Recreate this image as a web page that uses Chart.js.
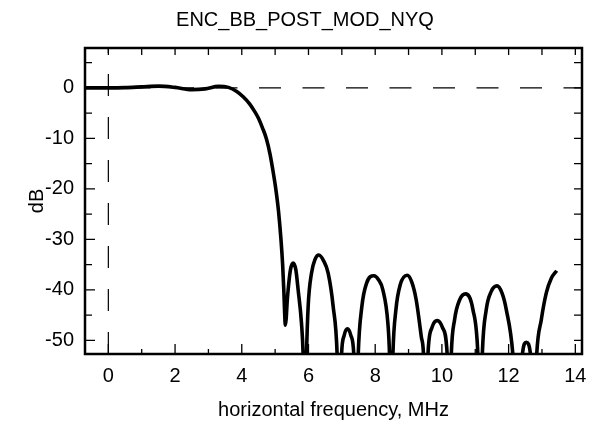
<!DOCTYPE html>
<html>
<head>
<meta charset="utf-8">
<script src="https://cdn.jsdelivr.net/npm/chart.js@4"></script>
<style>
html,body{margin:0;padding:0;background:#fff;}
canvas{display:block;}
</style>
</head>
<body>
<canvas id="c" width="590" height="441" style="width:590px;height:441px"></canvas>
<script>
// ---- data ----
const chartTitle = 'ENC_BB_POST_MOD_NYQ';
const xAxisTitle = 'horizontal frequency, MHz';
const yAxisTitle = 'dB';

const freqMHz = [
  -0.7, -0.3, 0.0, 0.5, 1.0, 1.5, 2.0, 2.5, 2.9, 3.3, 3.6, 3.85, 4.05, 4.24, 4.37, 4.5, 4.62, 4.74, 4.85, 4.94,
  5.02, 5.10, 5.175, 5.225, 5.26, 5.285, 5.305, 5.33, 5.36, 5.39, 5.46, 5.54, 5.62, 5.69, 5.79, 5.84, 5.89, 5.94, 5.99,
  6.09, 6.2, 6.31, 6.45, 6.59, 6.74, 6.86, 6.92, 6.99, 7.07, 7.17, 7.27, 7.36, 7.43, 7.49, 7.6, 7.74, 7.96,
  8.1, 8.23, 8.38, 8.43, 8.48, 8.53, 8.62, 8.75, 8.96, 9.1, 9.23, 9.38, 9.45, 9.52, 9.58, 9.7, 9.86, 10.02,
  10.16, 10.22, 10.28, 10.38, 10.53, 10.71, 10.93, 11.08, 11.15, 11.21, 11.33, 11.48, 11.65, 11.8, 11.93,
  12.13, 12.27, 12.41, 12.53, 12.66, 12.75, 12.84, 12.98, 13.13, 13.28, 13.44
];
const responseDb = [
  0.0, 0.0, 0.0, 0.05, 0.2, 0.35, 0.1, -0.35, -0.2, 0.3, 0.1, -0.7, -1.8, -3.2, -4.5, -6.0, -7.9, -10.1, -13.2, -16.6,
  -20.0, -24.3, -30.0, -35.0, -40.0, -44.5, -47.0, -45.8, -42.5, -40.0, -36.0, -34.7, -36.0, -40.0, -46.6, -53, -70, -53, -43.3,
  -36.7, -33.9, -33.1, -34.2, -36.7, -43.3, -53, -70, -53, -49, -47.7, -49, -53, -70, -53, -43.3, -38.7, -37.2,
  -38.0, -40.0, -46.6, -53, -70, -53, -44, -39, -37.1, -38.5, -42, -49.2, -53, -70, -53, -47.5, -46.1, -47.5,
  -53, -70, -53, -45.9, -42, -40.8, -43.9, -53, -70, -53, -43.9, -40.3, -39.2, -40.6, -43.9,
  -53, -70, -53, -50.4, -53, -70, -53, -45.9, -40.6, -37.7, -36.2
];

const xRange = [-0.7, 14.2];
const yRange = [-52.7, 7.9];
const xTicks = [0, 2, 4, 6, 8, 10, 12, 14];
const xMinorTicks = [1, 3, 5, 7, 9, 11, 13];
const yTicks = [0, -10, -20, -30, -40, -50];
const yMinorTicks = [5, -5, -15, -25, -35, -45];
const refLineX = 0;   // vertical dashed reference
const refLineY = 0;   // horizontal dashed reference

// ---- chart ----
const FONT = '"Liberation Sans", Arial, Helvetica, sans-serif';
const FS = 20;

const frameAndTicks = {
  id: 'frameAndTicks',
  afterLayout(chart) {
    if (chart.titleBlock) { chart.titleBlock.left = 20; chart.titleBlock.right = 590; }
  },
  afterDatasetsDraw(chart) {
    const {ctx, chartArea: a, scales: {x, y}} = chart;
    ctx.save();
    ctx.strokeStyle = '#000';
    ctx.lineWidth = 1.3;
    ctx.beginPath();
    const vTick = (v, lenBottom, lenTop) => {
      const px = x.getPixelForValue(v);
      ctx.moveTo(px, a.bottom); ctx.lineTo(px, a.bottom - lenBottom);
      ctx.moveTo(px, a.top); ctx.lineTo(px, a.top + lenTop);
    };
    const hTick = (v, lenLeft, lenRight) => {
      const py = y.getPixelForValue(v);
      ctx.moveTo(a.left, py); ctx.lineTo(a.left + lenLeft, py);
      ctx.moveTo(a.right, py); ctx.lineTo(a.right - lenRight, py);
    };
    xTicks.forEach(v => vTick(v, 10, 7));
    xMinorTicks.forEach(v => vTick(v, 5, 7));
    yTicks.forEach(v => hTick(v, 10, 8));
    yMinorTicks.forEach(v => hTick(v, 7, 8));
    ctx.stroke();
    ctx.lineWidth = 2.5;
    ctx.strokeRect(a.left, a.top, a.right - a.left, a.bottom - a.top);
    ctx.restore();
  }
};

const curve = freqMHz.map((f, i) => ({x: f, y: responseDb[i]}));

new Chart(document.getElementById('c'), {
  type: 'line',
  data: {
    datasets: [
      {
        data: curve,
        borderColor: '#000',
        borderWidth: 3.6,
        pointRadius: 0,
        cubicInterpolationMode: 'monotone',
        fill: false
      },
      {
        data: [{x: xRange[0], y: refLineY}, {x: xRange[1], y: refLineY}],
        borderColor: '#000',
        borderWidth: 1.2,
        borderDash: [22, 21.5],
        pointRadius: 0,
        fill: false
      },
      {
        data: [{x: refLineX, y: yRange[0]}, {x: refLineX, y: yRange[1]}],
        borderColor: '#000',
        borderWidth: 1.2,
        borderDash: [22, 21],
        pointRadius: 0,
        fill: false
      }
    ]
  },
  options: {
    responsive: false,
    animation: false,
    devicePixelRatio: 1,
    layout: {padding: {left: 0, right: 8, top: 0, bottom: 0}},
    plugins: {
      legend: {display: false},
      tooltip: {enabled: false},
      title: {
        display: true,
        text: chartTitle,
        color: '#000',
        font: {family: FONT, size: FS, weight: 'normal'},
        padding: {top: 8, bottom: 16}
      }
    },
    scales: {
      x: {
        type: 'linear',
        min: xRange[0],
        max: xRange[1],
        afterBuildTicks: s => { s.ticks = xTicks.map(v => ({value: v})); },
        afterFit: s => { s.height = 87; s.paddingLeft = 0; s.paddingRight = 0; },
        grid: {display: false, drawTicks: false},
        border: {display: false},
        ticks: {color: '#000', font: {family: FONT, size: FS}, padding: 10, maxRotation: 0, autoSkip: false},
        title: {display: true, text: xAxisTitle, color: '#000', font: {family: FONT, size: FS}, padding: {top: 0, bottom: 19}}
      },
      y: {
        type: 'linear',
        min: yRange[0],
        max: yRange[1],
        afterBuildTicks: s => { s.ticks = yTicks.map(v => ({value: v})); },
        afterFit: s => { s.width = 85; s.paddingTop = 0; s.paddingBottom = 0; },
        grid: {display: false, drawTicks: false},
        border: {display: false},
        ticks: {color: '#000', font: {family: FONT, size: FS}, padding: 11, autoSkip: false},
        title: {display: true, text: yAxisTitle, color: '#000', font: {family: FONT, size: FS}, padding: {top: 25, bottom: 0}}
      }
    }
  },
  plugins: [frameAndTicks]
});
</script>
</body>
</html>
